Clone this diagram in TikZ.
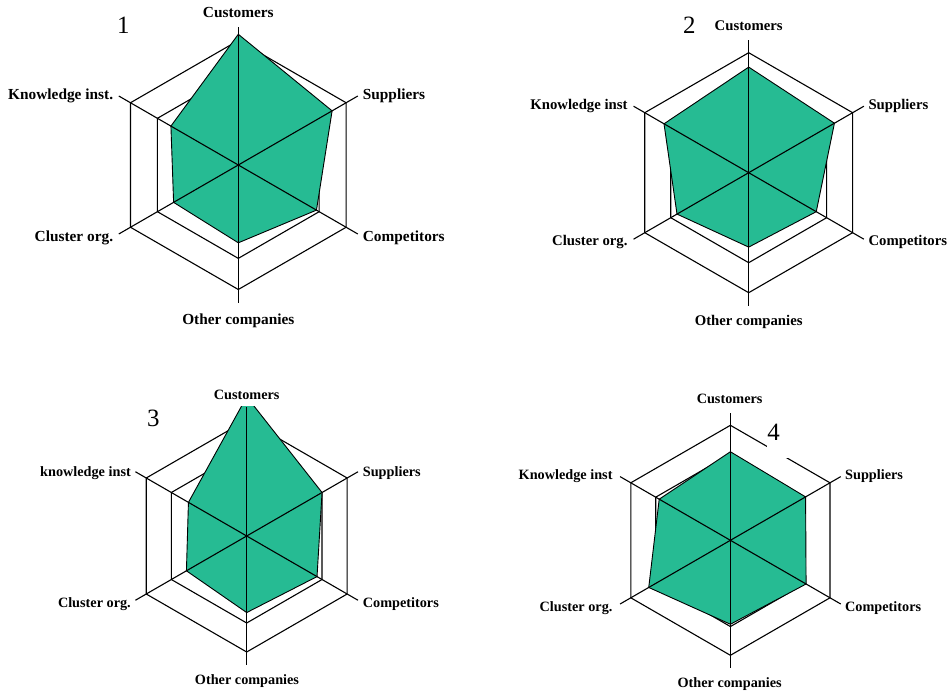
\documentclass[tikz,border=0pt]{standalone}
\usepackage{fontspec}
\setmainfont{Liberation Serif}
\definecolor{areagreen}{RGB}{38,187,147}
\tikzset{
  gridline/.style={draw=black, line width=1.1bp, line join=miter},
  spokeline/.style={draw=black, line width=1.1bp},
  valuearea/.style={fill=areagreen, draw=black, line width=0.9bp, line join=round},
  axlabel/.style={inner sep=0pt, font=\bfseries\fontsize{#1}{#1}\selectfont},
  chartno/.style={inner sep=0pt, font=\fontsize{25}{25}\selectfont},
}
% \radar{cx}{cy}{R}{customers}{suppliers}{competitors}{other}{cluster}{knowledge}
\newcommand{\radar}[9]{%
  \begin{scope}[shift={(#1,#2)}]
    \foreach \f in {1,0.75}
      \draw[gridline] (-90:{\f*#3}) -- (-30:{\f*#3}) -- (30:{\f*#3}) -- (90:{\f*#3})
        -- (150:{\f*#3}) -- (210:{\f*#3}) -- cycle;
    \draw[valuearea] (-90:{#4*#3}) -- (-30:{#5*#3}) -- (30:{#6*#3}) -- (90:{#7*#3})
        -- (150:{#8*#3}) -- (210:{#9*#3}) -- cycle;
    \foreach \a in {-90,-30,30,90,150,210}
      \draw[spokeline] (0,0) -- (\a:{1.108*#3});
  \end{scope}}
\begin{document}
\begin{tikzpicture}[x=1bp,y=-1bp]
  \useasboundingbox[fill=white] (0,0) rectangle (952,694);

  % chart 1
  \radar{238.3}{165}{124.5}{1.05}{0.87}{0.725}{0.625}{0.60}{0.625}
  \node[chartno, anchor=base] (n1) at (123.3,33.3) {1};
  \node[axlabel=15.4, anchor=base] (c1) at (238.3,17.3) {Customers};
  \node[axlabel=15.4, anchor=base west] (s1) at (362.7,100) {Suppliers};
  \node[axlabel=15.4, anchor=base west] (p1) at (362.7,241.7) {Competitors};
  \node[axlabel=15.4, anchor=base] (o1) at (238.3,324) {Other companies};
  \node[axlabel=15.4, anchor=base east] (l1) at (113.3,241.7) {Cluster org.};
  \node[axlabel=15.4, anchor=base east] (k1) at (113.3,100) {Knowledge inst.};

  % chart 2
  \radar{748.7}{172.7}{120}{0.88}{0.825}{0.65}{0.62}{0.69}{0.815}
  \node[chartno, anchor=base] (n2) at (689.3,33.3) {2};
  \node[axlabel=14.8, anchor=base] (c2) at (748.7,31) {Customers};
  \node[axlabel=14.8, anchor=base west] (s2) at (868.3,110) {Suppliers};
  \node[axlabel=14.8, anchor=base west] (p2) at (868.3,245.7) {Competitors};
  \node[axlabel=14.8, anchor=base] (o2) at (748.7,325.7) {Other companies};
  \node[axlabel=14.8, anchor=base east] (l2) at (627.7,245.7) {Cluster org.};
  \node[axlabel=14.8, anchor=base east] (k2) at (627.7,110) {Knowledge inst};

  % chart 3 (plot area cut off just under its top label)
  \begin{scope}
    \clip (0,406.3) rectangle (476,694);
    \radar{246.7}{536}{116}{1.2}{0.75}{0.70}{0.66}{0.60}{0.58}
  \end{scope}
  \node[chartno, anchor=base] (n3) at (153.3,426.3) {3};
  \node[axlabel=14.3, anchor=base] (c3) at (246.7,399.3) {Customers};
  \node[axlabel=14.3, anchor=base west] (s3) at (362.7,476) {Suppliers};
  \node[axlabel=14.3, anchor=base west] (p3) at (362.7,607.3) {Competitors};
  \node[axlabel=14.3, anchor=base] (o3) at (247,684) {Other companies};
  \node[axlabel=14.3, anchor=base east] (l3) at (131,607.3) {Cluster org.};
  \node[axlabel=14.3, anchor=base east] (k3) at (131,476) {knowledge inst};

  % chart 4
  \radar{730.4}{540.3}{115}{0.77}{0.755}{0.76}{0.73}{0.82}{0.715}
  \fill[white] (766.7,414) rectangle (790,458.3);
  \node[chartno, anchor=base] (n4) at (773.7,440.3) {4};
  \node[axlabel=14.3, anchor=base] (c4) at (729.6,403) {Customers};
  \node[axlabel=14.3, anchor=base west] (s4) at (845,479.7) {Suppliers};
  \node[axlabel=14.3, anchor=base west] (p4) at (845,611.3) {Competitors};
  \node[axlabel=14.3, anchor=base] (o4) at (729.6,687.3) {Other companies};
  \node[axlabel=14.3, anchor=base east] (l4) at (612.7,611.3) {Cluster org.};
  \node[axlabel=14.3, anchor=base east] (k4) at (612.7,479.7) {Knowledge inst};
\end{tikzpicture}
\end{document}
